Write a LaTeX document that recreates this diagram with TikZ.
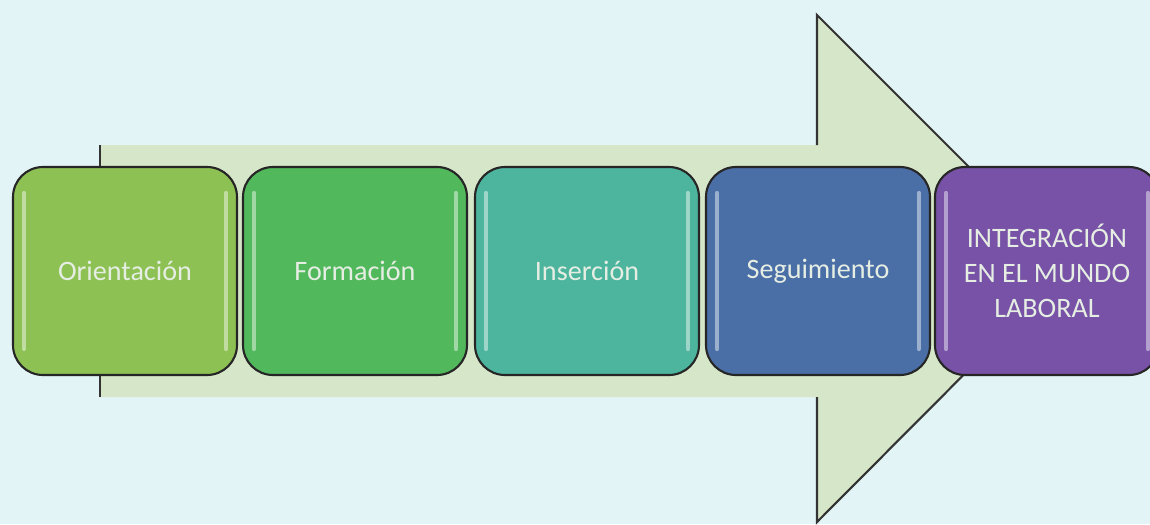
\documentclass[tikz,border=0pt]{standalone}
\usepackage{fontspec}
\setmainfont{Carlito}
\usepackage{tikz}
\usepackage{xcolor}
\usetikzlibrary{positioning}
\definecolor{page-bg}{RGB}{226,244,246}
\definecolor{arrow-bg}{RGB}{214,230,200}
\definecolor{col-ori}{RGB}{141,193,83}
\definecolor{col-for}{RGB}{82,184,92}
\definecolor{col-ins}{RGB}{77,181,158}
\definecolor{col-seg}{RGB}{74,110,166}
\definecolor{col-int}{RGB}{119,82,166}
\definecolor{text-light}{RGB}{230,238,228}

\begin{document}
\begin{tikzpicture}
[
x=0.1mm, y=-0.1mm,
box-a/.style={rectangle, rounded corners=3mm, draw=black!85, line width=0.6pt,
              minimum width=22.4mm, minimum height=20.8mm, inner sep=0pt, outer sep=0pt,
              align=center, text=text-light, font=\fontsize{8}{10}\selectfont},
arrow-line/.style={draw=black!80, line width=0.6pt},
gloss-a/.style={draw=white, opacity=0.45, line width=1.2pt, line cap=round}
]
\useasboundingbox[fill=page-bg] (0,0) rectangle (1150,524);
% big arrow behind the steps
\fill[arrow-bg] (100,145) -- (817,145) -- (817,15) -- (1070,268) -- (817,522) -- (817,397) -- (100,397) -- cycle;
\draw[arrow-line] (100,145) -- (100,397);
\draw[arrow-line] (817,145) -- (817,15) -- (1070,268) -- (817,522) -- (817,397);
% steps
\node (box-ori) [box-a, fill=col-ori] at (125,271)                {Orientación};
\node (box-for) [box-a, fill=col-for, right = 0.6mm of box-ori]   {Formación};
\node (box-ins) [box-a, fill=col-ins, right = 0.8mm of box-for]   {Inserción};
\node (box-seg) [box-a, fill=col-seg, right = 0.7mm of box-ins]   {Seguimiento};
\node (box-int) [box-a, fill=col-int, right = 0.5mm of box-seg]   {INTEGRACIÓN\\EN EL MUNDO\\LABORAL};
% glossy edges
\foreach \b in {box-ori,box-for,box-ins,box-seg,box-int}{
  \draw[gloss-a] ([xshift=1.1mm,yshift=-2.6mm]\b.north west) -- ([xshift=1.1mm,yshift=2.6mm]\b.south west);
  \draw[gloss-a] ([xshift=-1.1mm,yshift=-2.6mm]\b.north east) -- ([xshift=-1.1mm,yshift=2.6mm]\b.south east);
}
\end{tikzpicture}
\end{document}
